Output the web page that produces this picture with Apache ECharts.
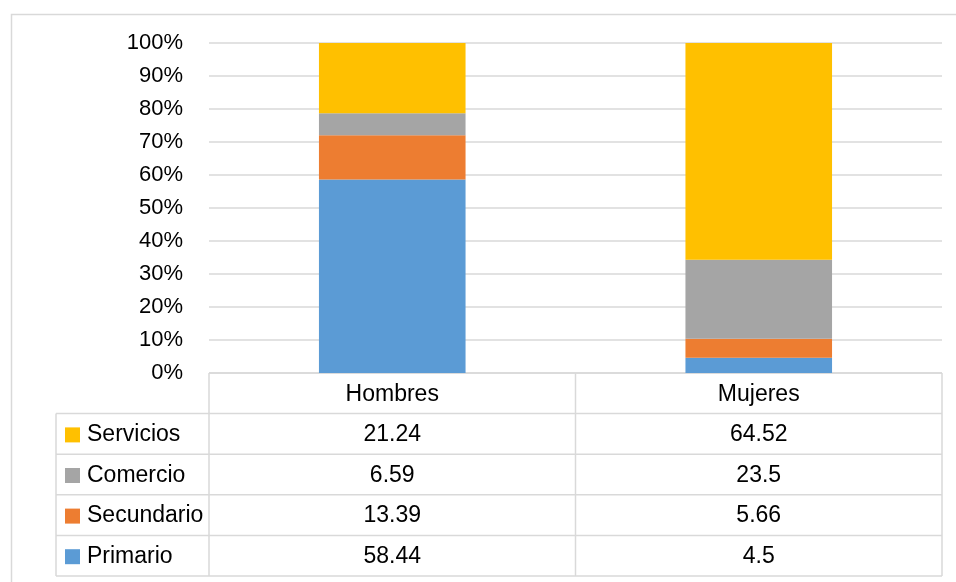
<!DOCTYPE html>
<html>
<head>
<meta charset="utf-8">
<script src="https://cdn.jsdelivr.net/npm/echarts@6/dist/echarts.min.js"></script>
<style>
html,body{margin:0;padding:0;background:#fff;}
#main{width:956px;height:582px;}
</style>
</head>
<body>
<div id="main"></div>
<script>
var categories = ['Hombres', 'Mujeres'];
var seriesNames = ['Primario', 'Secundario', 'Comercio', 'Servicios'];
var primario = [58.44, 4.5];
var secundario = [13.39, 5.66];
var comercio = [6.59, 23.5];
var servicios = [21.24, 64.52];
var colors = ['#5B9BD5', '#ED7D31', '#A5A5A5', '#FFC000'];
var yTicks = [0, 10, 20, 30, 40, 50, 60, 70, 80, 90, 100];

var raw = [primario, secundario, comercio, servicios];
var totals = categories.map(function (c, i) {
  return raw.reduce(function (s, arr) { return s + arr[i]; }, 0);
});
var pct = raw.map(function (arr) {
  return arr.map(function (v, i) { return v / totals[i] * 100; });
});

var FONT = 'Liberation Sans, Arial, sans-serif';
var GRIDC = '#D9D9D9';

var chart = echarts.init(document.getElementById('main'), null, { renderer: 'canvas' });
chart.setOption({
  animation: false,
  color: colors,
  grid: { left: 209, right: 14, top: 43, bottom: 209, containLabel: false },
  xAxis: {
    type: 'category',
    data: categories,
    axisLine: { show: false },
    axisTick: { show: false },
    axisLabel: { show: false }
  },
  yAxis: {
    type: 'value',
    min: 0, max: 100, interval: 10,
    axisLine: { show: false },
    axisTick: { show: false },
    splitLine: { lineStyle: { color: GRIDC, width: 1.5 } },
    axisLabel: {
      margin: 26,
      fontFamily: FONT,
      fontSize: 22,
      color: '#000',
      formatter: function (v) { return yTicks.indexOf(v) >= 0 ? v + '%' : ''; }
    }
  },
  series: seriesNames.map(function (n, k) {
    return {
      name: n, type: 'bar', stack: 'total', barWidth: '40%',
      data: pct[k], itemStyle: { color: colors[k] }
    };
  })
});

// Data table under the chart
var x0 = chart.convertToPixel({ xAxisIndex: 0 }, 0);
var x1 = chart.convertToPixel({ xAxisIndex: 0 }, 1);
var half = (x1 - x0) / 2;
var tableTop = chart.convertToPixel({ yAxisIndex: 0 }, 0);
var colEdges = [x0 - half, x0 + half, x1 + half];
var legendLeft = 56;
var rowH = 40.6;
var rows = [3, 2, 1, 0]; // Servicios, Comercio, Secundario, Primario
var g = [];
function line(xa, ya, xb, yb) {
  g.push({ type: 'line', shape: { x1: xa, y1: ya, x2: xb, y2: yb }, style: { stroke: GRIDC, lineWidth: 1.5 }, silent: true });
}
var tableBottom = tableTop + rowH * 5;
g.push({ type: 'rect', shape: { x: 11.5, y: 14.5, width: 1000, height: 700 }, style: { fill: null, stroke: GRIDC, lineWidth: 1.5 }, silent: true });
line(colEdges[0], tableTop, colEdges[2], tableTop);
for (var r = 1; r <= 5; r++) {
  line(legendLeft, tableTop + rowH * r, colEdges[2], tableTop + rowH * r);
}
colEdges.forEach(function (x) { line(x, tableTop, x, tableBottom); });
line(legendLeft, tableTop + rowH, legendLeft, tableBottom);
categories.forEach(function (c, i) {
  var cx = chart.convertToPixel({ xAxisIndex: 0 }, i);
  g.push({ type: 'text', x: cx, y: tableTop + rowH / 2 + 1, style: { text: c, font: '23px ' + FONT, fill: '#000', align: 'center', verticalAlign: 'middle' }, silent: true });
});
rows.forEach(function (k, ri) {
  var cy = tableTop + rowH * (ri + 1) + rowH / 2 + 1;
  g.push({ type: 'rect', shape: { x: 65, y: cy - 7.5, width: 15, height: 15 }, style: { fill: colors[k] }, silent: true });
  g.push({ type: 'text', x: 87, y: cy, style: { text: seriesNames[k], font: '23px ' + FONT, fill: '#000', align: 'left', verticalAlign: 'middle' }, silent: true });
  categories.forEach(function (c, i) {
    var cx = chart.convertToPixel({ xAxisIndex: 0 }, i);
    g.push({ type: 'text', x: cx, y: cy, style: { text: String(raw[k][i]), font: '23px ' + FONT, fill: '#000', align: 'center', verticalAlign: 'middle' }, silent: true });
  });
});
chart.setOption({ graphic: g });
</script>
</body>
</html>
